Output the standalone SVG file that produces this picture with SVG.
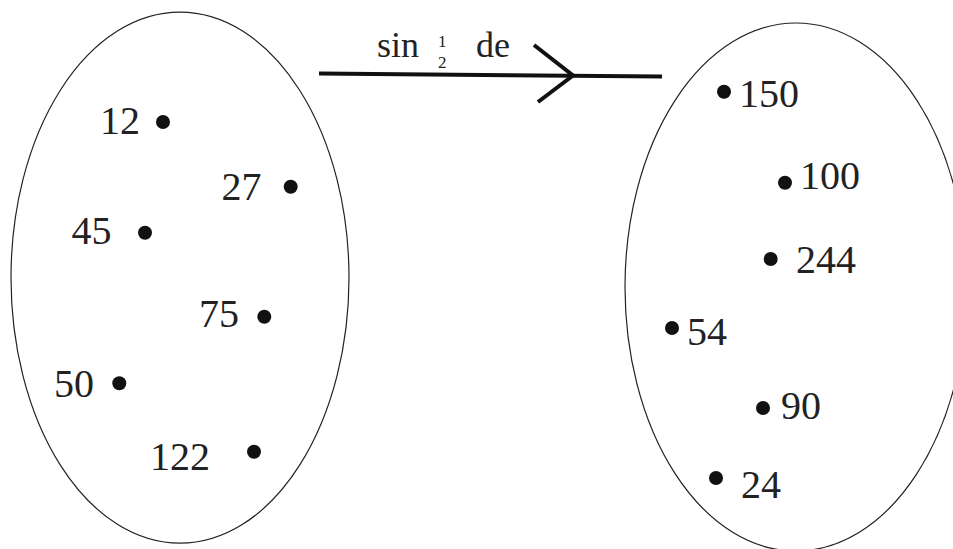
<svg xmlns="http://www.w3.org/2000/svg" width="953" height="549" viewBox="0 0 953 549">
<style>
.set{fill:none;stroke:#222;stroke-width:1.2}
.dot{fill:#111}
text{font-family:"Liberation Serif","Noto Serif","DejaVu Serif",serif;fill:#222}
.num{font-size:40px}
.lbl{font-size:36px}
.frac{font-size:17px}
.arr{fill:none;stroke:#111;stroke-width:4;stroke-linecap:butt}
</style>
<rect width="953" height="549" fill="#fff"/>
<g id="setA"><ellipse class="set" cx="180" cy="277.7" rx="169" ry="265.5"/></g>
<g id="setB"><ellipse class="set" cx="796" cy="287" rx="171" ry="264"/></g>
<g id="a12"><circle class="dot" cx="163" cy="122" r="7"/><text class="num" font-family="Liberation Serif, serif" x="100" y="134">12</text></g>
<g id="a27"><circle class="dot" cx="290.7" cy="186.7" r="7"/><text class="num" font-family="Liberation Serif, serif" x="221.5" y="200">27</text></g>
<g id="a45"><circle class="dot" cx="145" cy="232.7" r="7"/><text class="num" font-family="Liberation Serif, serif" x="71.5" y="243.5">45</text></g>
<g id="a75"><circle class="dot" cx="264.3" cy="316.7" r="7"/><text class="num" font-family="Liberation Serif, serif" x="199" y="327">75</text></g>
<g id="a50"><circle class="dot" cx="119.3" cy="383.3" r="7"/><text class="num" font-family="Liberation Serif, serif" x="54" y="396.5">50</text></g>
<g id="a122"><circle class="dot" cx="254" cy="451.7" r="7"/><text class="num" font-family="Liberation Serif, serif" x="150" y="469.5">122</text></g>
<g id="b150"><circle class="dot" cx="724" cy="91.7" r="7"/><text class="num" font-family="Liberation Serif, serif" x="739" y="107">150</text></g>
<g id="b100"><circle class="dot" cx="785" cy="182.7" r="7"/><text class="num" font-family="Liberation Serif, serif" x="800" y="189">100</text></g>
<g id="b244"><circle class="dot" cx="770.7" cy="259" r="7"/><text class="num" font-family="Liberation Serif, serif" x="796" y="273">244</text></g>
<g id="b54"><circle class="dot" cx="672" cy="328" r="7"/><text class="num" font-family="Liberation Serif, serif" x="687" y="345">54</text></g>
<g id="b90"><circle class="dot" cx="763" cy="408" r="7"/><text class="num" font-family="Liberation Serif, serif" x="781" y="419">90</text></g>
<g id="b24"><circle class="dot" cx="716" cy="478" r="7"/><text class="num" font-family="Liberation Serif, serif" x="741" y="498">24</text></g>
<g id="connectors">
<line class="arr" x1="319" y1="73.5" x2="662" y2="76.5"/>
<polyline class="arr" points="534,45 573,75.5 538,102"/>
<text class="lbl" font-family="Liberation Serif, serif" x="377" y="57">sin</text>
<text class="frac" font-family="Liberation Serif, serif" x="438" y="47">1</text>
<text class="frac" font-family="Liberation Serif, serif" x="438" y="68">2</text>
<text class="lbl" font-family="Liberation Serif, serif" x="476" y="57">de</text>
</g>
</svg>
